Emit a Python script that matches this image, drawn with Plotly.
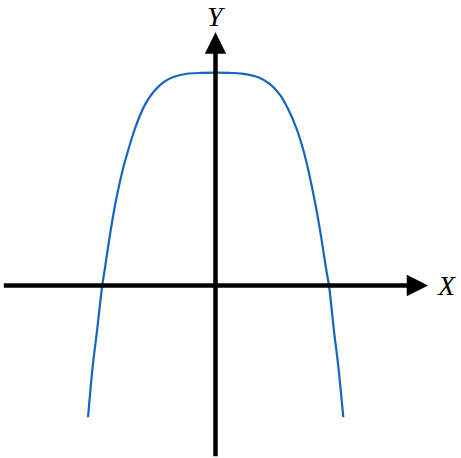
import plotly.graph_objects as go

# =======================
# Dati
# =======================

# Curva a campana piatta (valori stimati dall'immagine)
curve_x = [-1.130, -1.089, -1.053, -1.004, -0.980, -0.941, -0.891, -0.823,
           -0.787, -0.734, -0.684, -0.625, -0.552, -0.463, -0.374, -0.255,
           -0.130, 0.0, 0.120,
           0.232, 0.379, 0.483, 0.572, 0.645, 0.720, 0.778, 0.823,
           0.882, 0.935, 0.980, 1.006, 1.053, 1.089, 1.133]
curve_y = [-0.619, -0.381, -0.225, 0.0, 0.082, 0.220, 0.376, 0.543,
           0.612, 0.706, 0.780, 0.850, 0.908, 0.955, 0.980, 0.995,
           0.999, 1.0, 0.999,
           0.996, 0.979, 0.946, 0.896, 0.828, 0.735, 0.638, 0.542,
           0.392, 0.233, 0.080, 0.0, -0.225, -0.381, -0.619]

axis_labels = ["X", "Y"]

# =======================
# Impostazioni del disegno
# =======================

X_RANGE = [-1.9105, 2.1765]
Y_RANGE = [-0.8106, 1.3416]

X_AXIS_FROM, X_AXIS_TO = -1.89, 1.885
Y_AXIS_FROM, Y_AXIS_TO = -0.81, 1.19

fig = go.Figure()

fig.add_trace(go.Scatter(
    x=curve_x,
    y=curve_y,
    mode="lines",
    line=dict(color="#1565C0", width=2.2, shape="spline", smoothing=0.9),
    hoverinfo="skip",
    showlegend=False,
))

arrow_style = dict(
    text="",
    showarrow=True,
    arrowhead=2,
    arrowsize=0.95,
    arrowwidth=4.5,
    arrowcolor="black",
    standoff=0,
    startstandoff=0,
    xref="x", yref="y", axref="x", ayref="y",
)

# Asse X con freccia
fig.add_annotation(x=X_AXIS_TO, y=0, ax=X_AXIS_FROM, ay=0, **arrow_style)
# Asse Y con freccia
fig.add_annotation(x=0, y=Y_AXIS_TO, ax=0, ay=Y_AXIS_FROM, **arrow_style)

label_font = dict(family="Liberation Serif", size=28, color="black", style="italic")
fig.add_annotation(x=2.048, y=0, text=axis_labels[0], showarrow=False,
                   xref="x", yref="y", font=label_font)
fig.add_annotation(x=0.005, y=1.262, text=axis_labels[1], showarrow=False,
                   xref="x", yref="y", font=label_font)

fig.update_xaxes(range=X_RANGE, visible=False, fixedrange=True)
fig.update_yaxes(range=Y_RANGE, visible=False, fixedrange=True)

fig.update_layout(
    width=461,
    height=458,
    margin=dict(l=0, r=0, t=0, b=0),
    plot_bgcolor="white",
    paper_bgcolor="white",
)

# togli il margine di default della pagina
fig.write_html("out.html", config={"displayModeBar": False},
               post_script="document.body.style.margin='0';")
